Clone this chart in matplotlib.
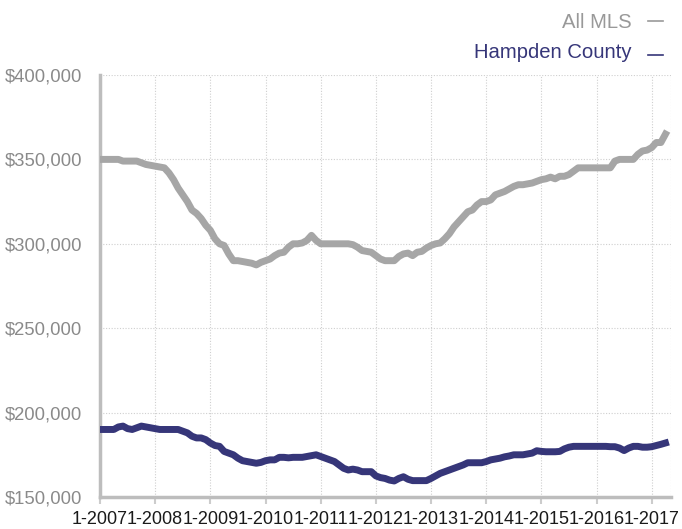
import matplotlib
matplotlib.use("Agg")
import matplotlib.pyplot as plt
from matplotlib.ticker import FuncFormatter
from matplotlib.lines import Line2D

plt.rcParams['font.family'] = ['Liberation Sans', 'DejaVu Sans']

all_mls = [350, 350, 350, 350, 350, 349, 349, 349, 349, 348, 347, 346.5,
           346, 345.5, 345, 342, 338, 333, 329, 325, 320, 318, 315, 311,
           308, 303, 300, 299, 294, 290, 290, 289.5, 289, 288.5, 287.5, 289,
           290, 291, 293, 294.5, 295, 298, 300, 300, 300.5, 302, 305, 302,
           300, 300, 300, 300, 300, 300, 300, 299.5, 298, 296, 295.5, 295,
           293, 291, 290, 290, 290, 292.5, 294, 294.5, 293, 295, 295.5, 297.5,
           299, 300, 300.5, 303, 306, 310, 313, 316, 319, 320, 323, 325,
           325, 326, 329, 330, 331, 332.5, 334, 335, 335, 335.5, 336, 337,
           338, 338.5, 339.5, 338.5, 340, 340, 341, 343, 345, 345, 345, 345,
           345, 345, 345, 345, 349, 350, 350, 350, 350, 353, 355, 355.5,
           357, 360, 360, 365]
hampden = [190, 190, 190, 190, 191.5, 192, 190.5, 190, 191, 192, 191.5, 191,
           190.5, 190, 190, 190, 190, 190, 189, 188, 186, 185, 185, 184,
           182, 180.5, 180, 177, 176, 175, 173, 171.5, 171, 170.5, 170, 170.5,
           171.5, 172, 172, 173.5, 173.5, 173.2, 173.5, 173.5, 173.5, 174, 174.5, 175,
           174, 173, 172, 171, 169, 167, 166, 166.5, 166, 165, 165, 165,
           162.5, 161.5, 161, 160, 159.5, 161, 162, 160.5, 159.7, 159.7, 159.7, 159.7,
           161, 162.5, 164, 165, 166, 167, 168, 169, 170.3, 170.3, 170.3, 170.3,
           171, 172, 172.5, 173, 173.8, 174.3, 175, 175, 175, 175.5, 176, 177.4,
           177, 176.8, 176.8, 176.8, 177, 178.5, 179.5, 180, 180, 180, 180, 180,
           180, 180, 180, 179.8, 179.8, 179, 177.5, 179, 180, 180, 179.5, 179.5,
           179.8, 180.5, 181.2, 182]
tick_labels = ["1-2007", "1-2008", "1-2009", "1-2010", "1-2011", "1-2012",
               "1-2013", "1-2014", "1-2015", "1-2016", "1-2017"]
series_names = ["All MLS", "Hampden County"]
colors = ["#a6a6a6", "#363679"]

W, H = 682, 529
fig = plt.figure(figsize=(W/100, H/100), dpi=100)
ax = fig.add_axes([100/W, 1-497/H, 571/W, 422/H])

x = list(range(len(all_mls)))
ax.plot(x, [v*1000 for v in all_mls], color=colors[0], lw=5, zorder=3)
ax.plot(x, [v*1000 for v in hampden], color=colors[1], lw=5, zorder=3)

ax.set_xlim(0, 124.2)
ax.set_ylim(150000, 400000)
ax.set_yticks(range(150000, 400001, 50000))
ax.yaxis.set_major_formatter(FuncFormatter(lambda v, p: f"${int(v):,}"))
ax.set_xticks([12*i for i in range(len(tick_labels))])
ax.set_xticklabels(tick_labels)

for s in ['top', 'right']:
    ax.spines[s].set_visible(False)
for s in ['left', 'bottom']:
    ax.spines[s].set_color('#bdbdbd')
    ax.spines[s].set_linewidth(2.5)
ax.grid(True, color='#cfcfcf', linestyle=(0, (1, 1.5)), linewidth=0.8)
ax.axvline(124.2, color='#cfcfcf', linestyle=(0, (1, 1.5)), linewidth=0.8)
ax.tick_params(axis='y', length=0, labelcolor='#8a8a8a', labelsize=13.3, pad=13)
ax.tick_params(axis='x', length=5, width=1.5, color='#cccccc', labelcolor='#1a1a1a',
               labelsize=13, pad=5)

fig.text(632/W, 1-22/H, series_names[0], ha='right', va='center', color='#999999', fontsize=14.6)
fig.text(632/W, 1-53/H, series_names[1], ha='right', va='center', color=colors[1], fontsize=14.6)
fig.add_artist(Line2D([648/W, 663/W], [1-21/H, 1-21/H], color='#999999', lw=1.2))
fig.add_artist(Line2D([648/W, 663/W], [1-55/H, 1-55/H], color=colors[1], lw=1.2))

fig.savefig("out.png", dpi=100)
